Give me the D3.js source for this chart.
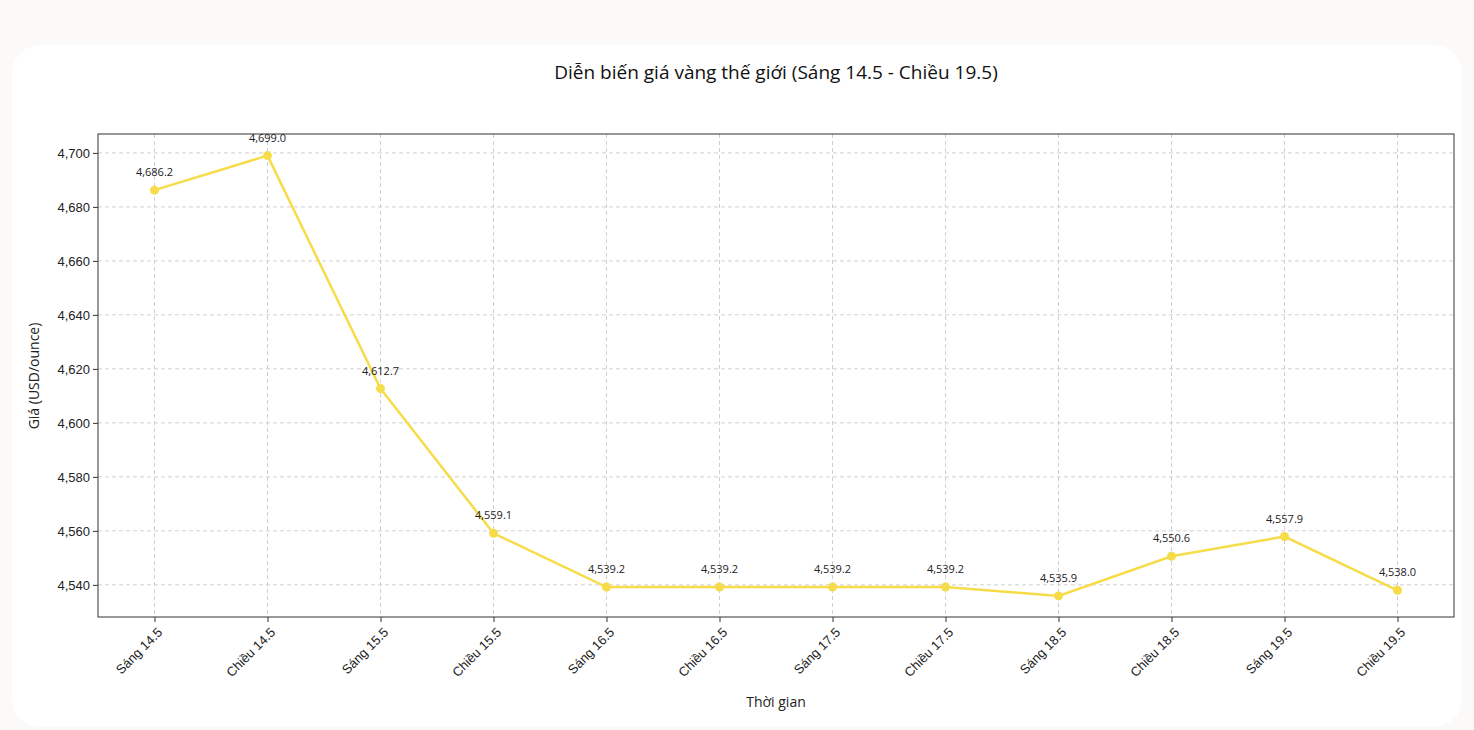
<!DOCTYPE html>
<html><head><meta charset="utf-8">
<script src="https://cdn.jsdelivr.net/npm/d3@7"></script>
<style>
body{margin:0;background:#fcf9f9;font-family:"Open Sans",sans-serif;}
#card{position:absolute;left:12px;top:45px;width:1450px;height:682px;background:#fff;border-radius:28px;}
</style></head>
<body><div id="card"></div><svg id="viz" style="position:absolute;left:0;top:0"></svg>
<script>
const width = 1474, height = 730;
const margin = {top: 134, right: 20, bottom: 113, left: 98};
const labels = ['Sáng 14.5','Chiều 14.5','Sáng 15.5','Chiều 15.5','Sáng 16.5','Chiều 16.5','Sáng 17.5','Chiều 17.5','Sáng 18.5','Chiều 18.5','Sáng 19.5','Chiều 19.5'];
const prices = [4686.2, 4699.0, 4612.7, 4559.1, 4539.2, 4539.2, 4539.2, 4539.2, 4535.9, 4550.6, 4557.9, 4538.0];
const yTicks = [4540, 4560, 4580, 4600, 4620, 4640, 4660, 4680, 4700];
const data = labels.map((l, i) => ({label: l, value: prices[i]}));

const svg = d3.select('#viz').attr('width', width).attr('height', height);

const xScale = d3.scalePoint().domain(labels)
  .range([margin.left, width - margin.right]).padding(0.5);
const yScale = d3.scaleLinear().domain([4528.1, 4707.0])
  .range([height - margin.bottom, margin.top]);

// grid
svg.append('g').selectAll('line.gx').data(labels).join('line')
  .attr('x1', d => xScale(d)).attr('x2', d => xScale(d))
  .attr('y1', margin.top).attr('y2', height - margin.bottom)
  .attr('stroke', '#cfcfcf').attr('stroke-dasharray', '4,3');
svg.append('g').selectAll('line.gy').data(yTicks).join('line')
  .attr('x1', margin.left).attr('x2', width - margin.right)
  .attr('y1', d => yScale(d)).attr('y2', d => yScale(d))
  .attr('stroke', '#cfcfcf').attr('stroke-dasharray', '4,3');

// axes
const xAxis = svg.append('g').attr('transform', `translate(0,${height - margin.bottom})`)
  .call(d3.axisBottom(xScale).tickSizeOuter(0).tickSize(5));
xAxis.selectAll('text').attr('text-anchor', 'end')
  .attr('transform', 'translate(-4,4) rotate(-45)')
  .style('font-size', '13px').attr('fill', '#222');
const yAxis = svg.append('g').attr('transform', `translate(${margin.left},0)`)
  .call(d3.axisLeft(yScale).tickValues(yTicks).tickSizeOuter(0).tickSize(5));
yAxis.selectAll('text').style('font-size', '13px').attr('fill', '#222');
svg.selectAll('.domain').remove();
svg.selectAll('.tick line').attr('stroke', '#333');
svg.append('rect').attr('x', margin.left).attr('y', margin.top)
  .attr('width', width - margin.right - margin.left).attr('height', height - margin.bottom - margin.top)
  .attr('fill', 'none').attr('stroke', '#333').attr('stroke-width', 1);

// line
const line = d3.line().x(d => xScale(d.label)).y(d => yScale(d.value));
svg.append('path').datum(data).attr('d', line)
  .attr('fill', 'none').attr('stroke', '#f7dc4a').attr('stroke-width', 2.5);
svg.append('g').selectAll('circle').data(data).join('circle')
  .attr('cx', d => xScale(d.label)).attr('cy', d => yScale(d.value))
  .attr('r', 4.5).attr('fill', '#f7dc4a');
svg.append('g').selectAll('text').data(data).join('text')
  .attr('x', d => xScale(d.label)).attr('y', d => yScale(d.value) - 14)
  .attr('text-anchor', 'middle').style('font-size', '11px').attr('fill', '#222')
  .text(d => d3.format(',.1f')(d.value));

// titles
svg.append('text').attr('x', 776).attr('y', 79).attr('text-anchor', 'middle')
  .style('font-size', '19px').attr('fill', '#111')
  .text('Diễn biến giá vàng thế giới (Sáng 14.5 - Chiều 19.5)');
svg.append('text').attr('x', 776).attr('y', 707).attr('text-anchor', 'middle')
  .style('font-size', '14px').attr('fill', '#222').text('Thời gian');
svg.append('text').attr('transform', 'translate(39,376) rotate(-90)').attr('text-anchor', 'middle')
  .style('font-size', '14px').attr('fill', '#222').text('Giá (USD/ounce)');
</script></body></html>
